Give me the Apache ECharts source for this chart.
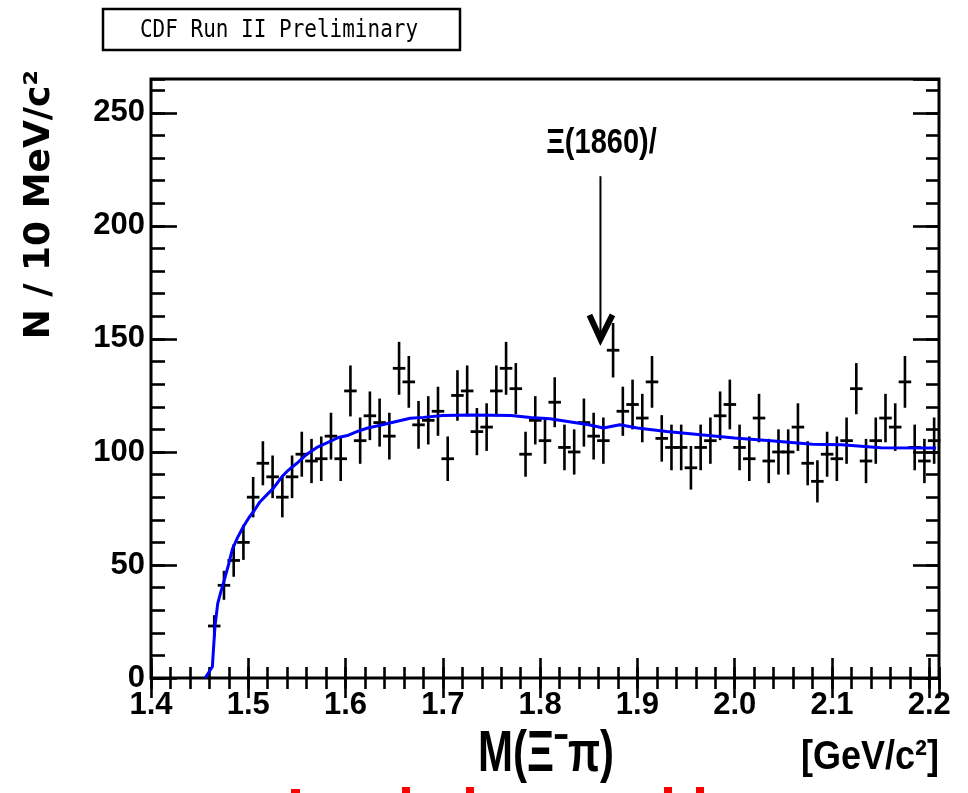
<!DOCTYPE html>
<html>
<head>
<meta charset="utf-8">
<script src="https://cdn.jsdelivr.net/npm/echarts@6.0.0/dist/echarts.min.js"></script>
<style>
html,body{margin:0;padding:0;background:#ffffff;}
#chart{width:968px;height:793px;}
</style>
</head>
<body>
<div id="chart"></div>
<script>
// ---- data ----
const binLow = 1.46;          // lower edge of first non-empty bin [GeV/c^2]
const binWidth = 0.01;        // 10 MeV/c^2 bins
const counts = [23, 41, 52, 60, 80, 95, 89, 80, 89, 99, 96, 97, 107, 97, 127, 105, 116, 113, 107, 137,
                131, 112, 114, 118, 97, 125, 127, 109, 111, 127, 137, 128, 99, 114, 105, 122, 102, 100, 113, 107,
                105, 145, 118, 121, 115, 131, 106, 102, 102, 93, 102, 105, 116, 121, 102, 97, 115, 96, 100, 100,
                111, 95, 87, 99, 97, 105, 128, 96, 105, 115, 111, 131, 102, 96, 105];
const fitMass  = [1.4556, 1.4631, 1.4641, 1.4658, 1.4686, 1.4717, 1.4751, 1.4796, 1.4837, 1.4888, 1.495, 1.5008,
                  1.506, 1.5121, 1.519, 1.5259, 1.5345, 1.5413, 1.5499, 1.5602, 1.5705, 1.5808, 1.5927, 1.603,
                  1.6116, 1.6219, 1.6356, 1.651, 1.6665, 1.68, 1.70, 1.73, 1.77, 1.79, 1.81, 1.83, 1.85, 1.865,
                  1.882, 1.90, 1.93, 1.965, 2.0, 2.04, 2.08, 2.11, 2.15, 2.207];
const fitValue = [0, 5, 12, 23, 33, 38, 43, 50, 57, 62, 67, 71,
                  74, 78, 81, 84, 89, 92, 95, 99, 102, 104, 106.4, 107.4,
                  109, 110.5, 111.8, 113.4, 114.9, 115.3, 116.1, 116.3, 116.1, 115.2, 114.7, 113.4, 112.0, 110.6,
                  112.0, 110.6, 109.1, 107.6, 106.2, 104.8, 103.4, 103.2, 101.9, 101.7];
const xTickValues = [1.4, 1.5, 1.6, 1.7, 1.8, 1.9, 2.0, 2.1, 2.2];
const xTickLabels = ['1.4', '1.5', '1.6', '1.7', '1.8', '1.9', '2.0', '2.1', '2.2'];
const yTickValues = [0, 50, 100, 150, 200, 250];
const yTickLabels = ['0', '50', '100', '150', '200', '250'];
const titleText = 'CDF Run II Preliminary';
const yTitle = 'N / 10 MeV/c\u00B2';
const xTitleMain = 'M(\u039E\u207B\u03C0)';
const xTitleUnit = '[GeV/c\u00B2]';
const peakLabel = '\u039E(1860)/';
const peakMass = 1.862;
const arrowFrom = 222;
const arrowTo = 150;

// ---- build ----
const xMin = 1.4, xMax = 2.21, yMin = 0, yMax = 265;
const errData = counts.map((c, i) => [binLow + binWidth * (i + 0.5), c, Math.sqrt(c)]);
const fitData = fitMass.map((m, i) => [m, fitValue[i]]);

function fmt(vals, labs) {
  return function (v) {
    for (let i = 0; i < vals.length; i++) if (Math.abs(v - vals[i]) < 1e-6) return labs[i];
    return '';
  };
}
const tickStyle = {color: '#000', width: 2.6};
function xAx(pos, interval, len, labels) {
  return {
    type: 'value', position: pos, min: xMin, max: xMax, interval: interval,
    axisLine: {show: false}, splitLine: {show: false},
    axisTick: {show: true, inside: true, length: len, lineStyle: tickStyle},
    axisLabel: labels ? {show: true, formatter: fmt(xTickValues, xTickLabels), margin: 12,
      color: '#000', fontFamily: 'Liberation Sans', fontWeight: 'bold', fontSize: 31,
      showMaxLabel: false} : {show: false}
  };
}
function yAx(pos, interval, len, labels) {
  return {
    type: 'value', position: pos, min: yMin, max: yMax, interval: interval,
    axisLine: {show: false}, splitLine: {show: false},
    axisTick: {show: true, inside: true, length: len, lineStyle: tickStyle},
    axisLabel: labels ? {show: true, formatter: fmt(yTickValues, yTickLabels), margin: 6,
      color: '#000', fontFamily: 'Liberation Sans', fontWeight: 'bold', fontSize: 31,
      showMaxLabel: false} : {show: false}
  };
}

const chart = echarts.init(document.getElementById('chart'), null, {renderer: 'canvas'});
const option = {
  animation: false,
  backgroundColor: '#ffffff',
  grid: {left: 151, top: 79, width: 788, height: 599, show: true, borderColor: '#000', borderWidth: 3,
         backgroundColor: 'transparent', containLabel: false},
  xAxis: [xAx('bottom', 0.1, 20, true), xAx('bottom', 0.02, 11, false), xAx('top', 0.1, 20, false), xAx('top', 0.02, 11, false)],
  yAxis: [yAx('left', 50, 26, true), yAx('left', 10, 14, false), yAx('right', 50, 26, false), yAx('right', 10, 13, false)],
  series: [
    {
      type: 'custom', xAxisIndex: 0, yAxisIndex: 0, z: 2, data: errData,
      encode: {x: 0, y: 1},
      renderItem: function (params, api) {
        const x = api.value(0), y = api.value(1), e = api.value(2);
        const t = api.coord([x, y + e]), b = api.coord([x, y - e]);
        const l = api.coord([x - binWidth / 2, y]), r = api.coord([x + binWidth / 2, y]);
        return {type: 'group', children: [
          {type: 'line', shape: {x1: t[0], y1: t[1], x2: b[0], y2: b[1]}, style: {stroke: '#000', lineWidth: 2.6}},
          {type: 'line', shape: {x1: l[0], y1: l[1], x2: r[0], y2: r[1]}, style: {stroke: '#000', lineWidth: 2.8, lineCap: 'square'}}
        ]};
      }
    },
    {
      type: 'line', xAxisIndex: 0, yAxisIndex: 0, z: 3, data: fitData, showSymbol: false, symbol: 'none',
      lineStyle: {color: '#0000ff', width: 3}, itemStyle: {color: '#0000ff'}
    }
  ]
};
chart.setOption(option);

const arrTop = chart.convertToPixel({xAxisIndex: 0, yAxisIndex: 0}, [peakMass, arrowFrom]);
const arrTip = chart.convertToPixel({xAxisIndex: 0, yAxisIndex: 0}, [peakMass, arrowTo]);

chart.setOption({
  graphic: [
    {type: 'rect', shape: {x: 103, y: 9, width: 357, height: 41}, style: {fill: '#fff', stroke: '#000', lineWidth: 2.5}},
    {type: 'text', x: 279, y: 31, scaleY: 1.15, style: {text: titleText, fill: '#000', font: '21px "DejaVu Sans Mono"', align: 'center', verticalAlign: 'middle'}},
    {type: 'text', x: 40, y: 70, rotation: Math.PI / 2, style: {text: yTitle, fill: '#000', font: 'bold 36px "DejaVu Sans"', align: 'right', verticalAlign: 'middle'}},
    {type: 'text', x: 546, y: 755, scaleY: 1.38, style: {text: xTitleMain, fill: '#000', font: 'bold 42px "Liberation Sans"', align: 'center', verticalAlign: 'middle'}},
    {type: 'text', x: 870, y: 758, scaleY: 1.15, style: {text: xTitleUnit, fill: '#000', font: 'bold 36px "Liberation Sans"', align: 'center', verticalAlign: 'middle'}},
    {type: 'text', x: arrTop[0] + 1, y: 143, scaleY: 1.2, style: {text: peakLabel, fill: '#000', font: 'bold 29px "Liberation Sans"', align: 'center', verticalAlign: 'middle'}},
    {type: 'line', shape: {x1: arrTop[0], y1: arrTop[1], x2: arrTip[0], y2: arrTip[1]}, style: {stroke: '#000', lineWidth: 2}},
    {type: 'polyline', shape: {points: [[arrTip[0] - 11, arrTip[1] - 24], [arrTip[0], arrTip[1]], [arrTip[0] + 12, arrTip[1] - 24]]}, style: {stroke: '#000', fill: 'none', lineWidth: 6}},
    {type: 'rect', shape: {x: 291, y: 789, width: 9, height: 4}, style: {fill: '#ff0000'}},
    {type: 'rect', shape: {x: 402, y: 787, width: 8, height: 6}, style: {fill: '#ff0000'}},
    {type: 'rect', shape: {x: 466, y: 787, width: 8, height: 6}, style: {fill: '#ff0000'}},
    {type: 'rect', shape: {x: 664, y: 787, width: 8, height: 6}, style: {fill: '#ff0000'}},
    {type: 'rect', shape: {x: 696, y: 787, width: 8, height: 6}, style: {fill: '#ff0000'}}
  ]
});
</script>
</body>
</html>
